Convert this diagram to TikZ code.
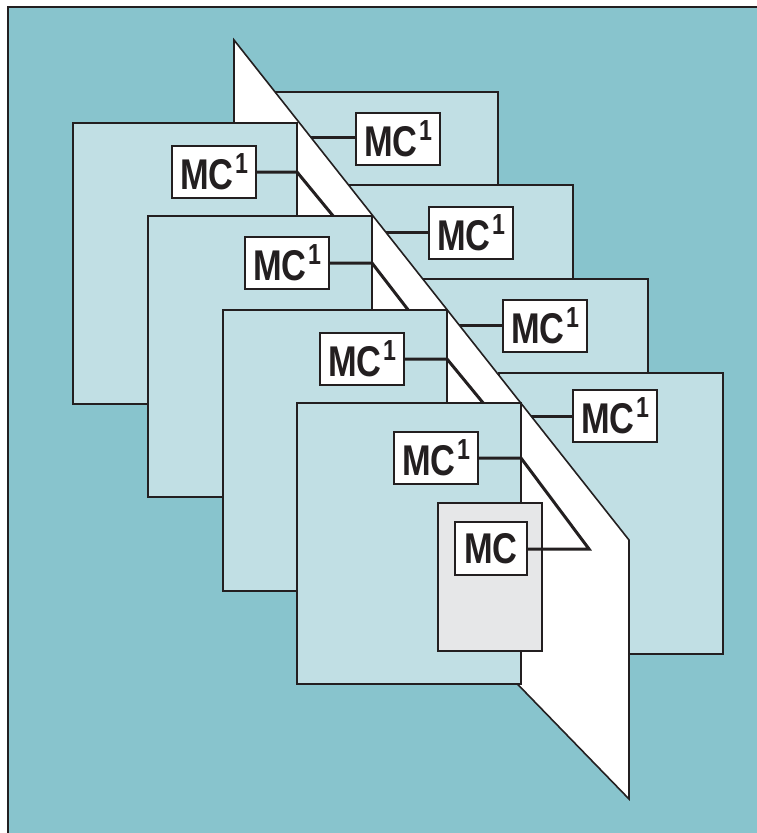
\documentclass[tikz,border=0pt]{standalone}
\usepackage{fontspec}
\setmainfont{Liberation Sans}[FakeStretch=0.8]
\definecolor{bgteal}{HTML}{88C4CD}
\definecolor{panelc}{HTML}{C1DFE4}
\definecolor{grayc}{HTML}{E6E7E8}
\definecolor{linec}{HTML}{231F20}
\newcommand\mcone{MC\hspace{1.5pt}\raisebox{16pt}{\fontsize{29}{29}\selectfont 1}}
\begin{document}
\begin{tikzpicture}[x=1pt,y=-1pt,
  panel/.style={draw=linec, fill=panelc, line width=2pt, minimum width=224pt, minimum height=281pt, anchor=north west, inner sep=0pt, outer sep=0pt},
  mcbox/.style={draw=linec, fill=white, line width=1.8pt, minimum width=84pt, minimum height=52pt, anchor=north west, inner sep=0pt, outer sep=0pt, text=linec, font=\fontsize{43}{43}\selectfont\bfseries},
  conn/.style={draw=linec, line width=3pt},
  planestyle/.style={draw=linec, fill=white, line width=1.6pt, line join=miter}]
\useasboundingbox (0,0) rectangle (757,833);
\fill[white] (0,0) rectangle (757,833);
\filldraw[fill=bgteal, draw=linec, line width=1.8pt] (8,7) rectangle (775,850);
% right panels (behind the plane)
\node[panel] (R1) at (274,92) {};
\node[mcbox] (R1box) at (356,113) {\mcone};
\coordinate (R1end) at (300,137);
\draw[conn] (R1end) -- (R1box.west |- R1end);
\node[panel] (R2) at (349,185) {};
\node[mcbox] (R2box) at (429,207) {\mcone};
\coordinate (R2end) at (375,232);
\draw[conn] (R2end) -- (R2box.west |- R2end);
\node[panel] (R3) at (424,279) {};
\node[mcbox] (R3box) at (503,300) {\mcone};
\coordinate (R3end) at (450,325);
\draw[conn] (R3end) -- (R3box.west |- R3end);
\node[panel] (R4) at (499,373) {};
\node[mcbox] (R4box) at (573,390) {\mcone};
\coordinate (R4end) at (520,416);
\draw[conn] (R4end) -- (R4box.west |- R4end);
% the plane
\filldraw[planestyle] (234,40) -- (629,540) -- (629,799) -- (234,392) -- cycle;
% left panels (in front of the plane)
\node[panel] (L1) at (73,123) {};
\node[mcbox] (L1box) at (172,146) {\mcone};
\draw[conn] (L1box.east) -- (L1box.east -| L1.east) -- ++(37,45);
\node[panel] (L2) at (148,216) {};
\node[mcbox] (L2box) at (245,237) {\mcone};
\draw[conn] (L2box.east) -- (L2box.east -| L2.east) -- ++(37,48);
\node[panel] (L3) at (223,310) {};
\node[mcbox] (L3box) at (320,333) {\mcone};
\draw[conn] (L3box.east) -- (L3box.east -| L3.east) -- ++(37,45);
\node[panel] (L4) at (297,403) {};
\node[mcbox] (L4box) at (394,432) {\mcone};
\node[draw=linec, fill=grayc, line width=2pt, minimum width=104pt, minimum height=148pt, anchor=north west, inner sep=0pt] (G) at (437,502) {};
\node[mcbox, minimum width=72pt, minimum height=53pt] (MC) at (455,522) {MC};
\coordinate (turn) at (589,549);
\draw[conn, line join=miter] (L4box.east) -- (L4box.east -| L4.east) -- (turn) -- (MC.east |- turn);
\end{tikzpicture}
\end{document}
